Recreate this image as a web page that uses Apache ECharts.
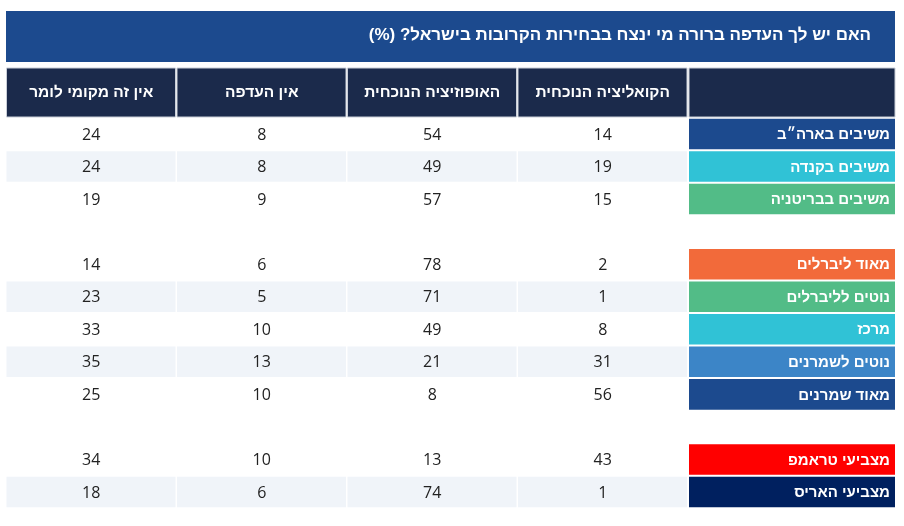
<!DOCTYPE html>
<html>
<head>
<meta charset="utf-8">
<script src="https://cdn.jsdelivr.net/npm/echarts@6/dist/echarts.min.js"></script>
<style>
  html, body { margin: 0; padding: 0; background: #fff; }
  #chart { width: 904px; height: 526px; }
</style>
</head>
<body>
<div id="chart" dir="rtl"></div>
<script>
const title = "האם יש לך העדפה ברורה מי ינצח בבחירות הקרובות בישראל? (%)";
// columns, left to right as shown
const columns = ["אין זה מקומי לומר", "אין העדפה", "האופוזיציה הנוכחית", "הקואליציה הנוכחית"];
const rowLabels = [
  "משיבים בארה״ב", "משיבים בקנדה", "משיבים בבריטניה",
  "מאוד ליברלים", "נוטים לליברלים", "מרכז", "נוטים לשמרנים", "מאוד שמרנים",
  "מצביעי טראמפ", "מצביעי האריס"
];
const rowColors = [
  "#1c4a8e", "#30c2d6", "#52bc87",
  "#f26a3a", "#52bc87", "#30c2d6", "#3c85c7", "#1c4a8e",
  "#ff0000", "#00205f"
];
const groupSizes = [3, 5, 2];
const notMyPlace = [24, 24, 19, 14, 23, 33, 35, 25, 34, 18];
const noPreference = [8, 8, 9, 6, 5, 10, 13, 10, 10, 6];
const opposition = [54, 49, 57, 78, 71, 49, 21, 8, 13, 74];
const coalition = [14, 19, 15, 2, 1, 8, 31, 56, 43, 1];
const columnValues = [notMyPlace, noPreference, opposition, coalition];

// y categories: rows with an empty spacer between groups
const yCats = [];
const rowSlot = [];
const rowShade = [];
let r = 0;
groupSizes.forEach((n, g) => {
  if (g > 0) yCats.push("gap" + g);
  for (let i = 0; i < n; i++) {
    rowSlot.push(yCats.length);
    rowShade.push(i % 2);
    yCats.push(rowLabels[r]);
    r++;
  }
});

const cellData = [];
columnValues.forEach((vals, c) => {
  vals.forEach((v, i) => cellData.push([c, rowSlot[i], v, rowShade[i]]));
});
const labelData = rowLabels.map((name, i) => [3, rowSlot[i], i]);
const headerData = columns.map((name, c) => [c, 0, c]);

const HEB = "'Liberation Sans', 'DejaVu Sans', sans-serif";
const NUM = "'Open Sans', 'Liberation Sans', sans-serif";
const LABEL_COL_W = 207;

function band(api, x, y) {
  const p = api.coord([x, y]);
  const s = api.size([1, 1]);
  return { cx: p[0], cy: p[1], w: s[0], h: s[1] };
}

const chart = echarts.init(document.getElementById("chart"));
chart.setOption({
  animation: false,
  title: {
    text: title,
    right: 33,
    top: 27,
    padding: 0,
    textStyle: { color: "#fff", fontSize: 17, fontWeight: "bold", fontFamily: HEB }
  },
  graphic: [{
    type: "rect", z: -1,
    shape: { x: 6, y: 11, width: 889, height: 51 },
    style: { fill: "#1c4a8e" }
  }],
  grid: [
    { left: 6, width: 682, top: 117.7, height: 390.6 },
    { left: 6, width: 682, top: 68, height: 50 }
  ],
  xAxis: [
    { type: "category", data: columns, show: false, gridIndex: 0 },
    { type: "category", data: columns, show: false, gridIndex: 1 }
  ],
  yAxis: [
    { type: "category", data: yCats, inverse: true, show: false, gridIndex: 0 },
    { type: "category", data: ["header"], show: false, gridIndex: 1 }
  ],
  series: [
    {
      // header row; the extra item is the empty label-column header
      type: "custom", xAxisIndex: 1, yAxisIndex: 1,
      data: headerData.concat([[3, 0, -1]]),
      renderItem: (params, api) => {
        const b = band(api, api.value(0), api.value(1));
        const isLabelCol = api.value(2) < 0;
        let x = b.cx - b.w / 2 + 0.5;
        let w = b.w - 1.5;
        if (isLabelCol) { x = b.cx + b.w / 2 + 1; w = LABEL_COL_W - 1; }
        const y = b.cy - b.h / 2;
        const kids = [{
          type: "rect",
          shape: { x: x, y: y, width: w, height: b.h - 1 },
          style: { fill: "#1b2a4b", stroke: "#c9ced8", lineWidth: 1 }
        }];
        if (!isLabelCol) {
          kids.push({
            type: "text",
            style: {
              text: columns[api.value(2)], x: b.cx, y: b.cy,
              align: "center", verticalAlign: "middle",
              fill: "#fff", font: "bold 15.5px " + HEB
            }
          });
        }
        return { type: "group", children: kids };
      }
    },
    {
      type: "custom",
      data: cellData,
      renderItem: (params, api) => {
        const b = band(api, api.value(0), api.value(1));
        return {
          type: "group",
          children: [{
            type: "rect",
            shape: { x: b.cx - b.w / 2 + 0.5, y: b.cy - b.h / 2 + 1, width: b.w - 1.5, height: b.h - 2 },
            style: { fill: api.value(3) ? "#f0f4f9" : "#ffffff" }
          }, {
            type: "text",
            style: {
              text: String(api.value(2)), x: b.cx, y: b.cy + 1,
              align: "center", verticalAlign: "middle",
              fill: "#222", font: "16px " + NUM
            }
          }]
        };
      }
    },
    {
      // coloured row labels, placed right of the last value column
      type: "custom",
      data: labelData,
      renderItem: (params, api) => {
        const b = band(api, api.value(0), api.value(1));
        const i = api.value(2);
        const x = b.cx + b.w / 2 + 1;
        return {
          type: "group",
          children: [{
            type: "rect",
            shape: { x: x, y: b.cy - b.h / 2 + 1, width: LABEL_COL_W - 1, height: b.h - 2 },
            style: { fill: rowColors[i] }
          }, {
            type: "text",
            style: {
              text: rowLabels[i], x: x + LABEL_COL_W - 6, y: b.cy + 1,
              align: "right", verticalAlign: "middle",
              fill: "#fff", font: "bold 15px " + HEB
            }
          }]
        };
      }
    }
  ]
});
</script>
</body>
</html>
